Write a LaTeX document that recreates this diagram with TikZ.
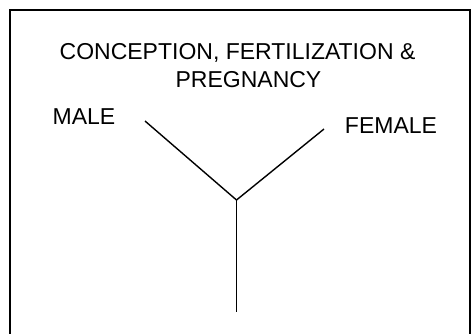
\documentclass[tikz,border=0pt]{standalone}
\usepackage{fontspec}
\setmainfont{Liberation Sans}
\usetikzlibrary{positioning}
\definecolor{cink}{HTML}{000000}
\tikzset{
  every picture/.style={line width=1.2pt},
  label/.style={font=\fontsize{23}{28}\selectfont, text=cink, inner sep=0pt, anchor=base},
  stroke/.style={draw=cink, line width=1.4pt},
  frame/.style={draw=cink, line width=1.5pt},
}

\begin{document}
\begin{tikzpicture}[x=1pt, y=-1pt]
  \useasboundingbox (0,0) rectangle (474,333);
  \clip (0,0) rectangle (474,333);
  \draw[frame] (10,345) -- (10,10) -- (470,10) -- (470,345);
  % labels
  \node[label] (title) at (237.5,59) {CONCEPTION, FERTILIZATION \&};
  \node[label] (title2) at (248.5,87) {PREGNANCY};
  \node[label] (male) at (84,124) {MALE};
  \node[label] (female) at (391,133) {FEMALE};
  % branches
  \coordinate (maleend) at (145,121);
  \coordinate (femaleend) at (324,129);
  \coordinate (join) at (236.5,200);
  \coordinate (stemend) at (236.5,312);
  \draw[stroke] (maleend) -- (join);
  \draw[stroke] (femaleend) -- (join);
  \draw[stroke] (join) -- (stemend);
\end{tikzpicture}
\end{document}
